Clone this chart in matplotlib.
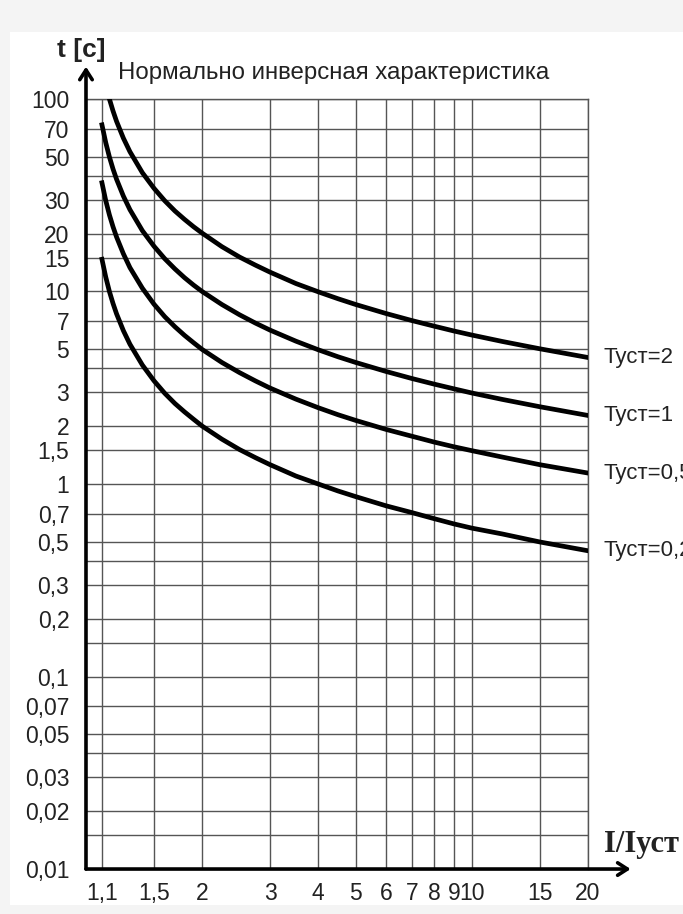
import matplotlib
matplotlib.use('Agg')
import matplotlib.pyplot as plt
from matplotlib.patches import Rectangle
from matplotlib.ticker import NullLocator

# Curve values (I/Iуст -> t, seconds)
i_ratio = [1.1, 1.125, 1.15, 1.175, 1.2, 1.25, 1.3, 1.4, 1.5, 1.6, 1.7, 1.8, 1.9, 2, 2.25, 2.5, 2.75,
           3, 3.5, 4, 4.5, 5, 6, 7, 8, 9, 10, 12, 15, 20]
t_2 = [100, 86.7, 76.6, 62.6, 53.2, 41.4, 34.4, 29.6, 26.2, 23.7, 21.7, 20.1, 17.1, 15.1, 13.7,
       12.6, 11.0, 9.96, 9.17, 8.56, 7.68, 7.06, 6.60, 6.23, 5.94, 5.50, 5.04, 4.54]
t_1 = [73.4, 59.4, 50.0, 43.3, 38.3, 31.3, 26.6, 20.7, 17.2, 14.8, 13.1, 11.8, 10.8, 10.0, 8.56,
       7.57, 6.85, 6.30, 5.52, 4.98, 4.58, 4.28, 3.84, 3.53, 3.30, 3.12, 2.97, 2.75, 2.52, 2.27]
t_05 = [36.7, 29.7, 25.0, 21.7, 19.2, 15.7, 13.3, 10.4, 8.6, 7.4, 6.56, 5.92, 5.42, 5.0, 4.28,
        3.79, 3.43, 3.15, 2.76, 2.49, 2.29, 2.14, 1.92, 1.77, 1.65, 1.56, 1.49, 1.38, 1.26, 1.14]
t_02 = [14.7, 11.9, 10.0, 8.67, 7.66, 6.26, 5.32, 4.15, 3.44, 2.96, 2.62, 2.37, 2.17, 2.0, 1.71,
        1.51, 1.37, 1.26, 1.10, 1.0, 0.92, 0.86, 0.77, 0.71, 0.66, 0.62, 0.59, 0.55, 0.50, 0.45]

curve_names = ['Туст=2', 'Туст=1', 'Туст=0,5', 'Туст=0,2']

x_ticks = [1.1, 1.5, 2, 3, 4, 5, 6, 7, 8, 9, 10, 15, 20]
x_labels = ['1,1', '1,5', '2', '3', '4', '5', '6', '7', '8', '9', '10', '15', '20']

y_ticks = [0.01, 0.015, 0.02, 0.03, 0.04, 0.05, 0.07, 0.1, 0.15, 0.2, 0.3, 0.4, 0.5, 0.7,
           1, 1.5, 2, 3, 4, 5, 7, 10, 15, 20, 30, 40, 50, 70, 100]
y_labels = ['0,01', '', '0,02', '0,03', '', '0,05', '0,07', '0,1', '', '0,2', '0,3', '', '0,5', '0,7',
            '1', '1,5', '2', '3', '', '5', '7', '10', '15', '20', '30', '', '50', '70', '100']

plt.rcParams['font.family'] = ['Liberation Sans', 'DejaVu Sans']

fig = plt.figure(figsize=(6.83, 9.14), dpi=100, facecolor='#f4f4f4')
# white sheet behind the chart
fig.patches.append(Rectangle((0.0146, 0.0098), 0.9854, 0.955, transform=fig.transFigure,
                             facecolor='white', edgecolor='none', zorder=-10))

ax = fig.add_axes([0.1259, 0.0492, 0.735, 0.8425])
ax.set_facecolor('white')
ax.set_xscale('log')
ax.set_yscale('log')
ax.set_xlim(1, 20)
ax.set_ylim(0.01, 100)

ax.set_xticks(x_ticks)
ax.set_xticklabels(x_labels)
ax.set_yticks(y_ticks)
ax.set_yticklabels(y_labels)
ax.xaxis.set_minor_locator(NullLocator())
ax.yaxis.set_minor_locator(NullLocator())
ax.tick_params(axis='both', length=0, labelsize=16.5, colors='#222')
ax.tick_params(axis='x', pad=9)
ax.tick_params(axis='y', pad=12)
ax.grid(True, color='#555', linewidth=1.0)

for side in ['top', 'right']:
    ax.spines[side].set_color('#555')
    ax.spines[side].set_linewidth(1.0)
for side in ['left', 'bottom']:
    ax.spines[side].set_visible(False)

# curves
ax.plot(i_ratio[2:], t_2, color='black', lw=3.4, zorder=3)
ax.plot(i_ratio, t_1, color='black', lw=3.4, zorder=3)
ax.plot(i_ratio, t_05, color='black', lw=3.4, zorder=3)
ax.plot(i_ratio, t_02, color='black', lw=3.4, zorder=3)

ends = [t_2[-1], t_1[-1], t_05[-1], t_02[-1]]
for name, yv in zip(curve_names, ends):
    ax.text(22, yv, name, fontsize=16, color='#222', va='center', ha='left', clip_on=False)

# axis arrows
arrow = dict(arrowstyle='->,head_length=0.7,head_width=0.45', lw=2.6, color='black',
             shrinkA=0, shrinkB=0)
ax.annotate('', xy=(0, 1.042), xytext=(0, 0), xycoords='axes fraction', arrowprops=arrow)
ax.annotate('', xy=(1.085, 0), xytext=(0, 0), xycoords='axes fraction', arrowprops=arrow)

fig.text(0.154, 0.945, 't [c]', fontsize=19, fontweight='bold', color='#222', ha='right', va='center')
fig.text(0.173, 0.920, 'Нормально инверсная характеристика', fontsize=17.3, color='#222',
         ha='left', va='center')
fig.text(0.884, 0.0755, 'I/Iуст', fontsize=22, fontweight='bold', color='#222',
         family=['Liberation Serif', 'DejaVu Serif'], ha='left', va='center')

fig.savefig('out.png', dpi=100, facecolor=fig.get_facecolor())
